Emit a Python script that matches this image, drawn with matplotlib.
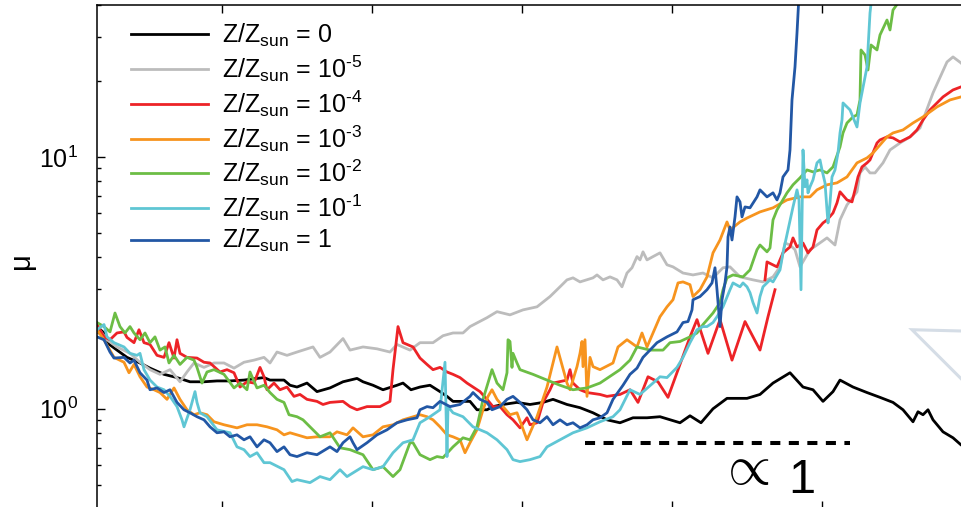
import numpy as np
import matplotlib
matplotlib.use("Agg")
import matplotlib.pyplot as plt
from matplotlib.ticker import LogLocator, NullFormatter, FixedLocator

plt.rcParams['font.family'] = ['Liberation Sans', 'DejaVu Sans']
plt.rcParams['mathtext.fontset'] = 'custom'
plt.rcParams['mathtext.rm'] = 'Liberation Sans'
plt.rcParams['mathtext.it'] = 'Liberation Sans:italic'
plt.rcParams['mathtext.bf'] = 'Liberation Sans:bold'

# ---- series: x position and mean value mu for each metallicity ----
x_z0 = [25, 32, 35, 45, 55, 68, 78, 92, 105, 118, 132, 145, 158, 172, 185, 192, 198, 212, 218, 225,
        235, 245, 258, 271, 285, 291, 301, 311, 325, 331, 339, 348, 358, 368, 375, 381, 398, 405, 415, 421,
        431, 445, 458, 471, 481, 495, 508, 521, 535, 548, 561, 575, 588, 608, 618, 629, 641, 655, 675, 688,
        701, 718, 731, 741, 751, 761, 768, 781, 795, 808, 821, 831, 841, 846, 851, 856, 861, 871, 881, 889, 894]
mu_z0 = [2.12, 2.00, 1.83, 1.71, 1.60, 1.52, 1.45, 1.37, 1.33, 1.28, 1.28, 1.29, 1.29, 1.30, 1.32, 1.33, 1.30, 1.30, 1.24, 1.22,
         1.265, 1.17, 1.21, 1.28, 1.32, 1.28, 1.24, 1.19, 1.24, 1.265, 1.19, 1.22, 1.24, 1.17, 1.12, 1.07, 1.07, 0.991, 0.991, 1.02,
         1.04, 1.06, 1.04, 1.06, 1.09, 1.04, 1.01, 0.964, 0.904, 0.880, 0.921, 0.921, 0.930, 0.880, 0.938, 0.880, 1.00, 1.10, 1.10, 1.14,
         1.265, 1.39, 1.22, 1.19, 1.07, 1.17, 1.30, 1.22, 1.16, 1.11, 1.06, 0.991, 0.888, 0.973, 0.947, 0.991, 0.904, 0.810, 0.767, 0.719, 0.700]

x_z5 = [25, 35, 45, 58, 68, 78, 88, 98, 108, 115, 122, 132, 142, 152, 162, 172, 182, 192, 198, 205,
        215, 225, 241, 248, 258, 271, 278, 291, 305, 318, 325, 338, 348, 361, 371, 381, 391, 398, 415, 425,
        438, 451, 465, 478, 488, 495, 501, 508, 521, 525, 531, 538, 545, 550, 555, 560, 565, 568, 571, 575,
        581, 588, 595, 601, 611, 621, 631, 641, 651, 658, 668, 681, 691, 701, 708, 713, 718, 723, 728, 738,
        745, 755, 763, 768, 775, 785, 788, 793, 798, 803, 811, 818, 828, 838, 848, 861, 875, 881, 889, 894]
mu_z5 = [2.12, 1.88, 1.76, 1.66, 1.53, 1.43, 1.37, 1.43, 1.28, 1.40, 1.52, 1.46, 1.52, 1.52, 1.45, 1.53, 1.56, 1.60, 1.52, 1.68,
         1.63, 1.68, 1.76, 1.60, 1.68, 1.90, 1.71, 1.76, 1.73, 1.68, 1.80, 1.71, 1.83, 1.83, 1.95, 2.00, 2.00, 2.12, 2.30, 2.43,
         2.36, 2.47, 2.54, 2.79, 3.05, 3.25, 3.31, 3.19, 3.31, 3.40, 3.25, 3.34, 3.25, 3.05, 3.46, 3.63, 4.02, 3.90, 4.20, 3.90,
         4.02, 4.16, 3.73, 3.66, 3.46, 3.40, 3.46, 3.31, 3.63, 3.66, 3.34, 3.25, 3.19, 3.34, 3.66, 4.55, 4.47, 4.28, 3.66, 4.28,
         4.47, 4.77, 4.47, 5.62, 6.45, 7.27, 8.64, 9.13, 8.64, 8.64, 9.47, 10.66, 11.36, 12.01, 13.03, 17.95, 23.83, 24.95, 23.61, 22.56]

nan = np.nan
x_z4 = [25, 32, 38, 45, 52, 55, 62, 67, 72, 78, 85, 92, 97, 102, 105, 108, 115, 125, 132, 138,
        148, 155, 162, 168, 175, 182, 188, 192, 195, 202, 208, 215, 222, 228, 235, 245, 251, 258, 271, 278,
        285, 295, 308, 318, 321, 326, 331, 341, 348, 355, 361, 368, 375, 381, 388, 395, 401, 408, 415, 421,
        428, 435, 441, 448, 455, 458, 465, 471, 478, 481, 495, 498, 501, 508, 515, 528, 535, 548, 558, 566,
        576, 586, 596, 618, 625, 636, 648, 660, 673, 688, 696, 703, nan, 693, 695, 705, 711, 718, 721, 725,
        731, 736, 741, 745, 751, 755, 761, 765, 768, 775, 780, 783, 786, 790, 795, 798, 805, 808, 815, 821,
        828, 838, 845, 851, 858, 871, 881, 889, 894]
mu_z4 = [2.16, 1.93, 1.88, 2.00, 2.02, 1.92, 1.83, 2.06, 1.83, 1.80, 1.63, 1.60, 1.83, 1.59, 1.88, 1.66, 1.60, 1.59, 1.53, 1.52,
         1.40, 1.43, 1.39, 1.22, 1.28, 1.265, 1.46, 1.34, 1.19, 1.265, 1.19, 1.22, 1.12, 1.14, 1.09, 1.07, 1.04, 1.06, 1.07, 1.02,
         0.991, 1.02, 1.02, 1.07, 1.43, 2.12, 1.83, 1.76, 1.59, 1.50, 1.43, 1.46, 1.40, 1.37, 1.33, 1.265, 1.22, 1.17, 1.09, 1.02,
         1.02, 0.947, 0.904, 0.840, 0.921, 0.864, 0.880, 1.06, 1.19, 1.265, 1.30, 1.43, 1.265, 1.19, 1.16, 1.14, 1.12, 1.14, 1.19, 1.06,
         1.34, 1.28, 1.11, 1.93, 2.26, 1.66, 2.26, 1.56, 2.22, 1.71, 2.32, 2.97, nan, 3.25, 3.83, 3.66, 4.16, 4.39, 4.77, 4.39,
         4.55, 4.16, 4.39, 5.13, 5.47, 5.62, 5.99, 6.57, 7.27, 6.75, 6.63, 7.40, 8.33, 9.13, 9.47, 9.73, 11.36, 11.68, 12.01, 11.90,
         11.47, 12.01, 12.80, 14.02, 15.37, 17.31, 18.45, 18.97, 19.31]

x_z3 = [25, 32, 42, 52, 57, 62, 68, 75, 82, 88, 95, 102, 108, 115, 122, 128, 135, 142, 152, 165,
        175, 185, 195, 205, 212, 218, 225, 235, 245, 258, 265, 275, 281, 291, 301, 311, 321, 331, 348, 355,
        361, 368, 375, 381, 388, 393, 398, 405, 411, 416, 420, 425, 431, 438, 445, 455, 465, 475, 485, 495,
        498, 505, 508, 510, 511, 513, 515, 518, 521, 528, 541, 546, 555, 565, 570, 575, 588, 595, 601, 606,
        611, 618, 621, 628, 635, 641, 648, 655, 658, 668, 675, 688, 701, 715, 728, 738, 745, 755, 765, 775,
        785, 795, 801, 808, 815, 821, 831, 841, 851, 865, 878, 889, 894]
mu_z3 = [2.06, 1.88, 1.60, 1.53, 1.39, 1.50, 1.34, 1.22, 1.19, 1.16, 1.09, 1.21, 1.09, 0.991, 0.947, 0.964, 0.947, 0.888, 0.864, 0.840,
         0.864, 0.864, 0.848, 0.825, 0.788, 0.803, 0.788, 0.767, 0.774, 0.774, 0.810, 0.788, 0.840, 0.774, 0.788, 0.848, 0.864, 0.904, 0.947, 0.930,
         0.904, 0.848, 0.788, 0.774, 0.753, 0.669, 0.733, 0.825, 0.991, 1.12, 1.19, 1.09, 1.02, 0.947, 0.964, 0.753, 0.930, 1.22, 1.76, 1.265,
         1.19, 1.47, 1.66, 1.85, 1.47, 1.88, 1.12, 1.60, 1.47, 1.43, 1.52, 1.76, 1.88, 1.76, 2.00, 1.76, 2.32, 2.54, 2.71, 3.16,
         3.19, 3.11, 2.79, 2.97, 3.34, 4.16, 4.68, 5.52, 5.13, 5.52, 5.72, 6.05, 6.28, 6.75, 6.94, 6.94, 7.40, 7.75, 7.89, 8.33,
         9.47, 9.91, 10.37, 11.16, 12.01, 12.45, 12.80, 13.64, 14.42, 15.80, 16.84, 17.31, 17.63]

x_z2 = [25, 32, 38, 43, 48, 53, 58, 62, 68, 73, 78, 83, 88, 93, 97, 102, 108, 115, 122, 125,
        130, 135, 142, 152, 162, 168, 175, 178, 185, 192, 198, 205, 212, 217, 225, 231, 241, 248, 258, 268,
        278, 291, 301, 311, 321, 328, 338, 341, 348, 358, 365, 371, 381, 391, 398, 405, 411, 420, 425, 431,
        435, 436, 438, 440, 441, 445, 448, 461, 475, 488, 501, 515, 528, 541, 548, 558, 565, 578, 591, 598,
        608, 618, 625, 631, 641, 648, 651, 655, 661, 671, 678, 685, 688, 695, 698, 701, 705, 715, 721, 728,
        735, 741, 748, 755, 761, 768, 771, 775, 781, 785, 788, 789, 793, 796, 799, 805, 808, 815, 818, 821,
        826, 831]
mu_z2 = [2.20, 2.12, 2.02, 2.40, 2.12, 2.00, 2.12, 2.00, 1.88, 2.00, 1.83, 1.93, 1.71, 1.76, 1.52, 1.63, 1.50, 1.60, 1.56, 1.46,
         1.265, 1.40, 1.43, 1.37, 1.21, 1.265, 1.19, 1.40, 1.21, 1.24, 1.16, 1.09, 1.06, 0.947, 0.930, 0.904, 0.825, 0.774, 0.803, 0.700,
         0.688, 0.657, 0.573, 0.589, 0.538, 0.573, 0.733, 0.733, 0.657, 0.628, 0.646, 0.640, 0.706, 0.767, 0.753, 0.848, 1.09, 1.43, 1.265, 1.19,
         1.39, 1.88, 1.85, 1.46, 1.66, 1.52, 1.43, 1.37, 1.30, 1.24, 1.19, 1.21, 1.265, 1.37, 1.43, 1.56, 1.76, 1.71, 1.71, 1.83,
         1.85, 1.93, 2.00, 2.16, 2.40, 2.64, 2.97, 3.31, 3.40, 3.34, 3.56, 4.28, 4.47, 4.20, 4.35, 5.62, 6.16, 7.20, 7.75, 8.26,
         8.88, 8.72, 8.88, 8.64, 9.13, 10.96, 12.45, 13.64, 14.42, 14.68, 16.84, 26.59, 25.40, 22.14, 27.83, 26.59, 30.50, 34.97, 31.92, 38.31,
         40.85, 43.94]

x_z1 = [25, 32, 35, 42, 52, 58, 65, 68, 72, 78, 85, 92, 98, 105, 110, 112, 118, 123, 125, 128,
        135, 145, 158, 165, 172, 178, 185, 192, 198, 212, 220, 225, 238, 248, 258, 268, 275, 291, 301, 311,
        321, 331, 341, 348, 358, 368, 373, 375, 376, 381, 391, 401, 415, 425, 435, 441, 448, 458, 468, 475,
        488, 501, 515, 528, 541, 548, 558, 568, 581, 588, 595, 605, 611, 618, 625, 631, 635, 641, 645, 651,
        658, 661, 668, 671, 675, 678, 681, 685, 688, 691, 698, 701, 708, 711, 716, 721, 725, 727, 729, 731,
        733, 735, 736, 738, 741, 745, 748, 750, 753, 755, 756, 758, 760, 763, 766, 768, 770, 771, 778, 785,
        788, 795, 798, 800]
mu_z1 = [2.06, 2.16, 1.93, 1.83, 1.76, 1.66, 1.63, 1.66, 1.43, 1.30, 1.22, 1.19, 1.12, 1.02, 0.904, 0.848, 0.991, 1.17, 1.06, 0.964,
         0.930, 0.825, 0.803, 0.706, 0.688, 0.646, 0.669, 0.611, 0.611, 0.573, 0.514, 0.523, 0.509, 0.538, 0.523, 0.573, 0.538, 0.589, 0.573, 0.589,
         0.669, 0.733, 0.753, 0.880, 0.930, 0.991, 1.53, 0.646, 1.02, 0.964, 0.930, 0.848, 0.803, 0.753, 0.688, 0.628, 0.617, 0.628, 0.646, 0.706,
         0.753, 0.803, 0.840, 0.888, 0.930, 0.991, 1.19, 1.14, 1.265, 1.34, 1.33, 1.46, 1.60, 1.83, 2.06, 2.12, 2.12, 2.20, 2.32, 2.54,
         2.97, 3.16, 3.05, 3.16, 3.05, 2.89, 2.64, 2.40, 2.79, 3.05, 3.25, 3.19, 3.56, 4.16, 5.13, 6.33, 7.40, 6.75, 2.97, 10.66,
         7.61, 8.11, 7.20, 7.61, 8.11, 9.47, 9.73, 8.88, 7.89, 6.16, 5.47, 6.57, 8.33, 8.88, 10.37, 12.45, 14.02, 16.38, 15.37, 13.15,
         16.38, 22.77, 37.28, 43.94]

x_z1sun = [25, 32, 38, 42, 52, 58, 62, 68, 75, 78, 85, 92, 98, 105, 112, 118, 125, 132, 138, 145,
           152, 158, 165, 172, 178, 185, 192, 198, 205, 212, 218, 225, 235, 245, 258, 265, 271, 278, 281, 285,
           295, 305, 315, 325, 335, 345, 348, 355, 361, 368, 378, 388, 398, 401, 408, 415, 420, 428, 435, 441,
           448, 455, 461, 468, 475, 481, 488, 495, 501, 508, 515, 521, 528, 535, 541, 551, 558, 565, 571, 578,
           585, 595, 605, 611, 616, 620, 621, 628, 635, 640, 643, 645, 648, 650, 653, 655, 656, 658, 660, 663,
           665, 668, 670, 673, 678, 685, 688, 695, 701, 705, 708, 711, 716, 718, 720, 723, 725, 727]
mu_z1sun = [1.93, 1.88, 1.68, 1.59, 1.60, 1.52, 1.56, 1.39, 1.30, 1.19, 1.21, 1.16, 1.19, 1.06, 0.991, 0.964, 0.930, 0.904, 0.848, 0.803,
            0.810, 0.774, 0.788, 0.753, 0.774, 0.706, 0.753, 0.733, 0.676, 0.706, 0.657, 0.646, 0.669, 0.657, 0.706, 0.676, 0.733, 0.774, 0.733, 0.688,
            0.733, 0.788, 0.825, 0.880, 0.904, 0.921, 0.991, 1.02, 1.01, 1.07, 1.02, 1.04, 1.12, 1.16, 1.09, 1.06, 0.991, 1.02, 1.09, 1.12,
            1.06, 0.991, 0.904, 0.880, 0.930, 0.864, 0.904, 0.864, 0.880, 0.840, 0.864, 0.904, 0.921, 0.964, 1.09, 1.24, 1.37, 1.45, 1.60, 1.71,
            1.83, 1.93, 2.02, 2.20, 2.22, 2.47, 2.71, 2.79, 2.97, 3.16, 3.63, 2.97, 2.12, 2.71, 3.16, 3.66, 4.81, 5.27, 4.68, 5.78,
            6.94, 6.63, 5.78, 6.33, 6.28, 6.94, 7.40, 6.94, 7.20, 6.75, 7.20, 8.33, 8.88, 10.66, 16.84, 22.77, 31.06, 43.94]

labels = [r'Z/Z$_{\rm sun}$ = 0',
          r'Z/Z$_{\rm sun}$ = 10$^{‐5}$',
          r'Z/Z$_{\rm sun}$ = 10$^{‐4}$',
          r'Z/Z$_{\rm sun}$ = 10$^{‐3}$',
          r'Z/Z$_{\rm sun}$ = 10$^{‐2}$',
          r'Z/Z$_{\rm sun}$ = 10$^{‐1}$',
          r'Z/Z$_{\rm sun}$ = 1']
colors = ['#000000', '#bcbcbc', '#ed2327', '#f7941e', '#6cbd45', '#5fc6d4', '#2257a5']
series = [(x_z0, mu_z0), (x_z5, mu_z5), (x_z4, mu_z4), (x_z3, mu_z3),
          (x_z2, mu_z2), (x_z1, mu_z1), (x_z1sun, mu_z1sun)]

# constant reference level and its extent
guide_x = [513, 778]
guide_mu = 0.733

x_ticks = [150, 300, 450, 600, 750]

fig = plt.figure(figsize=(9.61, 5.07), dpi=100)
ax = fig.add_axes([97 / 961, -2.0 / 507, 975 / 961, 503.7 / 507])

for (xs, ys), c, lab in zip(series, colors, labels):
    ax.plot(xs, ys, color=c, lw=2.0, label=lab, solid_joinstyle='round')

ax.plot(guide_x, [guide_mu, guide_mu], color='black', lw=2.9, dashes=(2.5, 2.1))
ax.text(672, 0.573, r'$\propto$', fontsize=40, ha='center', va='center', math_fontfamily='cm')
ax.text(730, 0.464, '1', fontsize=35, ha='center', va='baseline')

# slope triangle edge from the neighbouring panel
ax.plot([903, 840, 903], [2.03, 2.06, 1.16], color='#d5dde6', lw=2.2, solid_joinstyle='miter')

ax.set_yscale('log')
ax.set_xlim(25, 1000)
ax.set_ylim(0.4, 40)

ax.xaxis.set_major_locator(FixedLocator(x_ticks))
ax.tick_params(axis='x', which='both', labelbottom=False)
ax.yaxis.set_major_locator(LogLocator(base=10))
ax.yaxis.set_minor_locator(LogLocator(base=10, subs=np.arange(2, 10)))
ax.yaxis.set_minor_formatter(NullFormatter())
ax.tick_params(which='both', direction='in', top=True, right=False, width=1.0)
ax.tick_params(which='major', length=6)
ax.tick_params(which='minor', length=3)
ax.tick_params(axis='y', labelsize=18, pad=14)
for s in ax.spines.values():
    s.set_linewidth(1.1)

ax.set_ylabel('\u03bc', fontsize=21)
ax.yaxis.label.set_verticalalignment('center')
ax.yaxis.set_label_coords(-0.078, 0.494)

ax.legend(loc='upper left', bbox_to_anchor=(121 / 961, 1 - 12 / 507), bbox_transform=fig.transFigure,
          frameon=False, fontsize=18, handlelength=3.08, handletextpad=0.56, labelspacing=0.167,
          borderpad=0.4, borderaxespad=0.0)

fig.savefig('out.png', dpi=100)
